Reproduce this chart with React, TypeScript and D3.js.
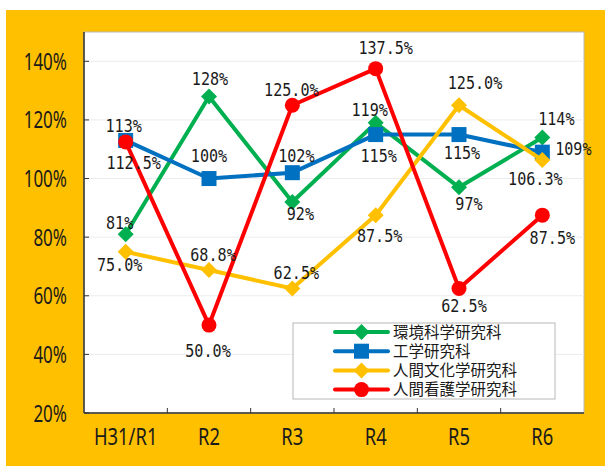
import React from "react";
import * as d3 from "d3";

const categories = ["H31/R1", "R2", "R3", "R4", "R5", "R6"];
const seriesNames = ["環境科学研究科", "工学研究科", "人間文化学研究科", "人間看護学研究科"];
const greenValues = [81, 128, 92, 119, 97, 114];
const blueValues = [113, 100, 102, 115, 115, 109];
const yellowValues = [75.0, 68.8, 62.5, 87.5, 125.0, 106.3];
const redValues = [112.5, 50.0, 125.0, 137.5, 62.5, 87.5];
const greenLabels = ["81%", "128%", "92%", "119%", "97%", "114%"];
const blueLabels = ["113%", "100%", "102%", "115%", "115%", "109%"];
const yellowLabels = ["75.0%", "68.8%", "62.5%", "87.5%", "125.0%", "106.3%"];
const redLabels = ["112.5%", "50.0%", "125.0%", "137.5%", "62.5%", "87.5%"];
const yTicks = [20, 40, 60, 80, 100, 120, 140];

// label offsets (layout, in px) relative to each point
const greenOffsets: [number, number][] = [[-6, -12], [1, -18], [8, 12], [-6, -13], [10, 16], [14, -19]];
const blueOffsets: [number, number][] = [[-2, -15], [0, -23], [4, -17], [3, 21], [3, 18], [31, -4]];
const yellowOffsets: [number, number][] = [[-6, 13], [4, -15], [4, -16], [4, 20], [16, -23], [-7, 18]];
const redOffsets: [number, number][] = [[8, 21], [-1, 25], [-1, -16], [10, -21], [5, 17], [10, 22]];

const W = 605;
const H = 466;
const plot = { left: 84, top: 32, right: 584, bottom: 413 };

const series = [
  { name: seriesNames[0], values: greenValues, labels: greenLabels, offsets: greenOffsets, color: "#00B050", marker: "diamond" },
  { name: seriesNames[1], values: blueValues, labels: blueLabels, offsets: blueOffsets, color: "#0070C0", marker: "square" },
  { name: seriesNames[2], values: yellowValues, labels: yellowLabels, offsets: yellowOffsets, color: "#FFC000", marker: "diamond" },
  { name: seriesNames[3], values: redValues, labels: redLabels, offsets: redOffsets, color: "#FF0000", marker: "circle" },
];

function Marker({ type, x, y, color }: { type: string; x: number; y: number; color: string }) {
  if (type === "square") return <rect x={x - 7.5} y={y - 7.5} width={15} height={15} fill={color} />;
  if (type === "circle") return <circle cx={x} cy={y} r={7.5} fill={color} />;
  const s = 8;
  return <path d={`M${x},${y - s}L${x + s},${y}L${x},${y + s}L${x - s},${y}Z`} fill={color} />;
}

function SText({ x, y, sx, children, anchor = "middle", size, family }: any) {
  return (
    <text
      transform={`translate(${x},${y}) scale(${sx},1)`}
      textAnchor={anchor}
      fontSize={size}
      fontFamily={family}
      fill="#1a1a1a"
    >
      {children}
    </text>
  );
}

export default function App() {
  const x = d3.scaleBand<string>().domain(categories).range([plot.left, plot.right]);
  const y = d3.scaleLinear().domain([20, 150]).range([plot.bottom, plot.top]);
  const cx = (c: string) => (x(c) as number) + x.bandwidth() / 2;
  const line = d3
    .line<number>()
    .x((_, i) => cx(categories[i]))
    .y((v) => y(v));

  const legend = { x: 293, y: 323, w: 262, h: 76 };
  const tickFont = "'Noto Sans', sans-serif";
  const labelFont = "'DejaVu Sans Mono', monospace";

  return (
    <svg width={W} height={H} style={{ position: "absolute", left: 0, top: 0 }}>
      <rect x={0} y={0} width={W} height={H} fill="#ffffff" />
      <rect x={6} y={10} width={W - 6} height={H - 10} fill="#FFC000" />
      <rect x={plot.left} y={plot.top} width={plot.right - plot.left} height={plot.bottom - plot.top} fill="#ffffff" stroke="#b8b8b8" strokeWidth={1} />
      {yTicks.map((t) => (
        <g key={t}>
          {t > 20 && <line x1={plot.left} x2={plot.right} y1={y(t)} y2={y(t)} stroke="#ececec" strokeWidth={1} />}
          <line x1={plot.left} x2={plot.left + 5} y1={y(t)} y2={y(t)} stroke="#333" strokeWidth={1} />
          <SText x={67} y={y(t) + 8.5} sx={0.74} anchor="end" size={23} family={tickFont}>
            {t}%
          </SText>
        </g>
      ))}
      {categories.map((c, i) => (
        <g key={c}>
          {i > 0 && <line x1={x(c) as number} x2={x(c) as number} y1={plot.bottom} y2={plot.bottom - 5} stroke="#333" strokeWidth={1} />}
          <SText x={cx(c)} y={445} sx={0.8} size={23} family={tickFont}>
            {c}
          </SText>
        </g>
      ))}
      <line x1={plot.left} x2={plot.left} y1={plot.top} y2={plot.bottom} stroke="#333" strokeWidth={1.5} />
      <line x1={plot.left} x2={plot.right} y1={plot.bottom} y2={plot.bottom} stroke="#333" strokeWidth={1.5} />
      {series.map((s) => (
        <g key={s.name}>
          <path d={line(s.values) as string} fill="none" stroke={s.color} strokeWidth={4} strokeLinejoin="round" />
          {s.values.map((v, i) => (
            <Marker key={i} type={s.marker} x={cx(categories[i])} y={y(v)} color={s.color} />
          ))}
        </g>
      ))}
      {series.map((s) =>
        s.values.map((v, i) => (
          <SText key={s.name + i} x={cx(categories[i]) + s.offsets[i][0]} y={y(v) + s.offsets[i][1] + 6.5} sx={0.84} size={18} family={labelFont}>
            {s.labels[i]}
          </SText>
        ))
      )}
      <rect x={legend.x} y={legend.y} width={legend.w} height={legend.h} fill="#ffffff" stroke="#b8b8b8" strokeWidth={1} />
      {series.map((s, i) => {
        const ly = legend.y + 9 + i * 19.2;
        return (
          <g key={s.name}>
            <line x1={335} x2={388} y1={ly} y2={ly} stroke={s.color} strokeWidth={4} strokeLinecap="round" />
            <Marker type={s.marker} x={361.5} y={ly} color={s.color} />
            <text x={393} y={ly + 5.5} fontSize={15.5} fontFamily="'Noto Sans CJK JP', sans-serif" fill="#1a1a1a">
              {s.name}
            </text>
          </g>
        );
      })}
    </svg>
  );
}
